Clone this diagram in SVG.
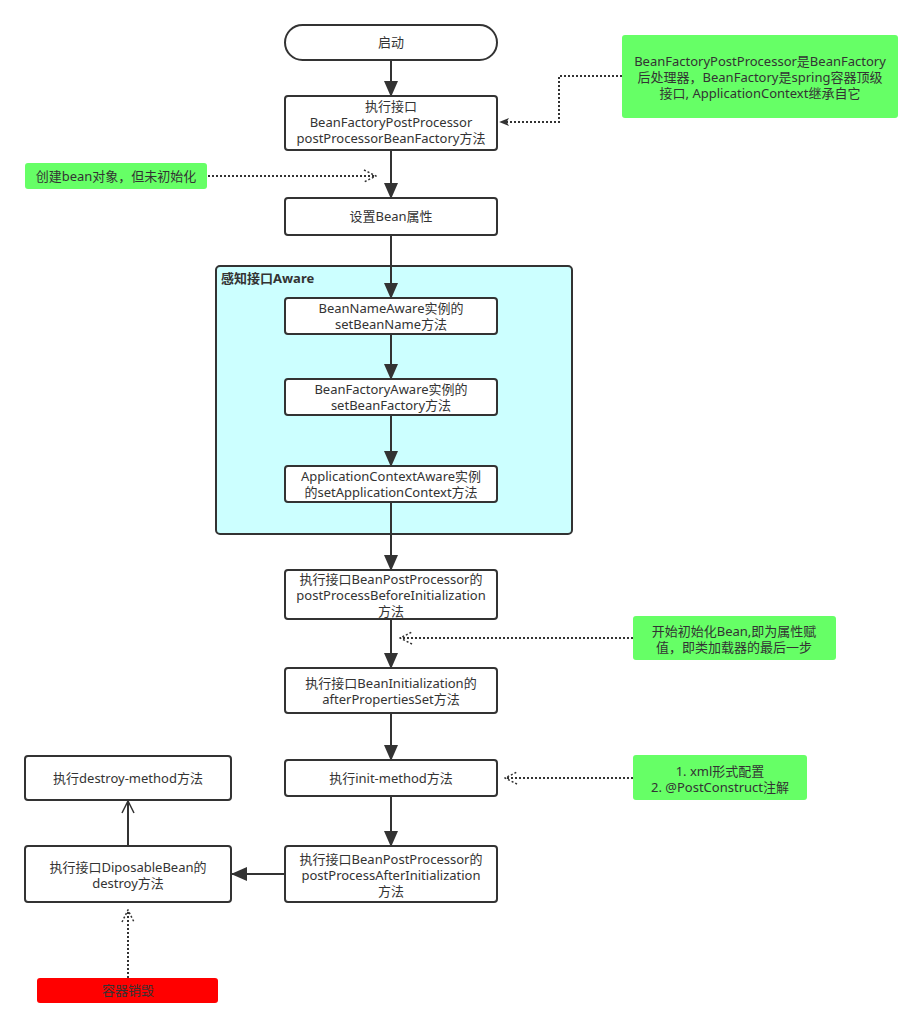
<svg xmlns="http://www.w3.org/2000/svg" width="923" height="1029" viewBox="0 0 923 1029">
<defs>
<marker id="big" viewBox="0 0 16 16" refX="15" refY="8" markerWidth="16" markerHeight="16" orient="auto" markerUnits="userSpaceOnUse">
<path d="M0,1 L16,8 L0,15 Z" fill="#333"/>
</marker>
<marker id="open" viewBox="0 0 14 14" refX="13" refY="7" markerWidth="14" markerHeight="14" orient="auto" markerUnits="userSpaceOnUse">
<path d="M1,1 L13,7 L1,13" fill="none" stroke="#333" stroke-width="1.5"/>
</marker>
<marker id="openDot" viewBox="0 0 14 14" refX="13" refY="7" markerWidth="14" markerHeight="14" orient="auto" markerUnits="userSpaceOnUse">
<path d="M1,1 L13,7 L1,13" fill="none" stroke="#333" stroke-width="1.5" stroke-dasharray="2 2"/>
</marker>
<marker id="fdot" viewBox="0 0 12 12" refX="11" refY="6" markerWidth="10" markerHeight="10" orient="auto" markerUnits="userSpaceOnUse">
<path d="M0,1 L12,6 L0,11 L3,6 Z" fill="#333"/>
</marker>
</defs>
<style>
.box{fill:#fff;stroke:#333;stroke-width:2}
.note{fill:#66FF66;stroke:none}
.t{font-family:"Noto Sans","Noto Sans CJK SC",sans-serif;font-size:13px;fill:#333;text-anchor:middle}
.c{fill:none;stroke:#333;stroke-width:2}
.d{fill:none;stroke:#333;stroke-width:2;stroke-dasharray:2 2}
</style>
<rect width="923" height="1029" fill="#fff"/>

<g id="aware">
<rect x="216" y="266" width="356" height="268" rx="4" fill="#CCFFFF" stroke="#333" stroke-width="2"/>
<text x="221" y="283" font-family="'Noto Sans','Noto Sans CJK SC',sans-serif" font-size="13" font-weight="bold" fill="#333">感知接口Aware</text>
</g>

<g id="connectors">
<line class="c" x1="391" y1="61" x2="391" y2="96" marker-end="url(#big)"/>
<line class="c" x1="391" y1="151" x2="391" y2="198" marker-end="url(#big)"/>
<line class="c" x1="391" y1="236" x2="391" y2="298" marker-end="url(#big)"/>
<line class="c" x1="391" y1="335" x2="391" y2="379" marker-end="url(#big)"/>
<line class="c" x1="391" y1="416" x2="391" y2="466" marker-end="url(#big)"/>
<line class="c" x1="391" y1="503" x2="391" y2="570" marker-end="url(#big)"/>
<line class="c" x1="391" y1="620" x2="391" y2="668" marker-end="url(#big)"/>
<line class="c" x1="391" y1="714" x2="391" y2="760" marker-end="url(#big)"/>
<line class="c" x1="391" y1="797" x2="391" y2="846" marker-end="url(#big)"/>
<line class="c" x1="285" y1="874" x2="232" y2="874" marker-end="url(#big)"/>
<line class="c" x1="128" y1="846" x2="128" y2="801" marker-end="url(#open)"/>
<polyline class="d" points="622,76 559,76 559,122 500,122" marker-end="url(#fdot)"/>
<line class="d" x1="208" y1="176" x2="376" y2="176" marker-end="url(#openDot)"/>
<line class="d" x1="633" y1="638" x2="400" y2="638" marker-end="url(#openDot)"/>
<line class="d" x1="633" y1="778" x2="505" y2="778" marker-end="url(#openDot)"/>
<line class="d" x1="128" y1="978" x2="128" y2="910" marker-end="url(#openDot)"/>
</g>

<g id="start">
<rect class="box" x="285" y="25" width="212" height="35" rx="17.5"/>
<text class="t" x="391" y="47">启动</text>
</g>
<g id="bfpp">
<rect class="box" x="285" y="96" width="212" height="54" rx="3"/>
<text class="t" x="391" y="111">执行接口</text>
<text class="t" x="391" y="127">BeanFactoryPostProcessor</text>
<text class="t" x="391" y="143">postProcessorBeanFactory方法</text>
</g>
<g id="note1">
<rect class="note" x="622" y="35" width="276" height="83" rx="3"/>
<text class="t" x="760" y="66">BeanFactoryPostProcessor是BeanFactory</text>
<text class="t" x="760" y="82">后处理器，BeanFactory是spring容器顶级</text>
<text class="t" x="760" y="98">接口, ApplicationContext继承自它</text>
</g>
<g id="note2">
<rect class="note" x="25" y="163" width="182" height="26" rx="3"/>
<text class="t" x="116" y="181">创建bean对象，但未初始化</text>
</g>
<g id="setprop">
<rect class="box" x="285" y="198" width="212" height="37" rx="3"/>
<text class="t" x="391" y="221">设置Bean属性</text>
</g>
<g id="bna">
<rect class="box" x="285" y="298" width="212" height="36" rx="3"/>
<text class="t" x="391" y="313">BeanNameAware实例的</text>
<text class="t" x="391" y="329">setBeanName方法</text>
</g>
<g id="bfa">
<rect class="box" x="285" y="379" width="212" height="36" rx="3"/>
<text class="t" x="391" y="394">BeanFactoryAware实例的</text>
<text class="t" x="391" y="410">setBeanFactory方法</text>
</g>
<g id="aca">
<rect class="box" x="285" y="466" width="212" height="36" rx="3"/>
<text class="t" x="391" y="481">ApplicationContextAware实例</text>
<text class="t" x="391" y="497">的setApplicationContext方法</text>
</g>
<g id="before">
<rect class="box" x="285" y="570" width="212" height="49" rx="3"/>
<text class="t" x="391" y="584">执行接口BeanPostProcessor的</text>
<text class="t" x="391" y="600">postProcessBeforeInitialization</text>
<text class="t" x="391" y="616">方法</text>
</g>
<g id="note3">
<rect class="note" x="633" y="616" width="203" height="44" rx="3"/>
<text class="t" x="734" y="636">开始初始化Bean,即为属性赋</text>
<text class="t" x="734" y="652">值，即类加载器的最后一步</text>
</g>
<g id="binit">
<rect class="box" x="285" y="668" width="212" height="45" rx="3"/>
<text class="t" x="391" y="688">执行接口BeanInitialization的</text>
<text class="t" x="391" y="704">afterPropertiesSet方法</text>
</g>
<g id="initm">
<rect class="box" x="285" y="760" width="212" height="36" rx="3"/>
<text class="t" x="391" y="783">执行init-method方法</text>
</g>
<g id="note4">
<rect class="note" x="633" y="755" width="174" height="45" rx="3"/>
<text class="t" x="720" y="776">1. xml形式配置</text>
<text class="t" x="720" y="792">2. @PostConstruct注解</text>
</g>
<g id="after">
<rect class="box" x="285" y="846" width="212" height="56" rx="3"/>
<text class="t" x="391" y="864">执行接口BeanPostProcessor的</text>
<text class="t" x="391" y="880">postProcessAfterInitialization</text>
<text class="t" x="391" y="896">方法</text>
</g>
<g id="disposable">
<rect class="box" x="25" y="846" width="206" height="56" rx="3"/>
<text class="t" x="128" y="872">执行接口DiposableBean的</text>
<text class="t" x="128" y="888">destroy方法</text>
</g>
<g id="destroym">
<rect class="box" x="25" y="756" width="206" height="44" rx="3"/>
<text class="t" x="128" y="783">执行destroy-method方法</text>
</g>
<g id="shutdown">
<rect x="37" y="978" width="181" height="25" rx="3" fill="#FF0000"/>
<text class="t" x="128" y="995">容器销毁</text>
</g>
</svg>
